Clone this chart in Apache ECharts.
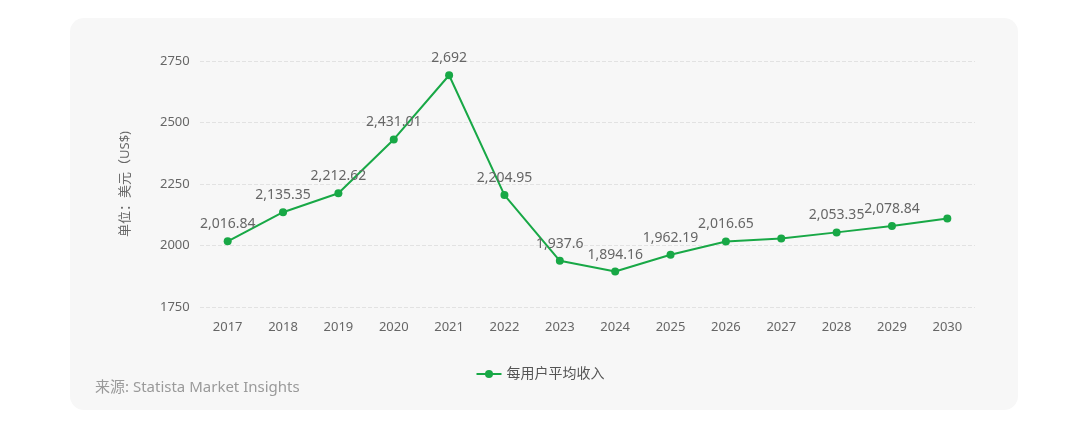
<!DOCTYPE html>
<html><head><meta charset="utf-8">
<script src="https://cdn.jsdelivr.net/npm/echarts@6/dist/echarts.min.js"></script>
<style>html,body{margin:0;background:#fff}#c{width:1080px;height:430px}</style>
</head><body><div id="c"></div>
<script>
const years = ["2017","2018","2019","2020","2021","2022","2023","2024","2025","2026","2027","2028","2029","2030"];
const arpu = [2016.84,2135.35,2212.62,2431.01,2692,2204.95,1937.6,1894.16,1962.19,2016.65,2028,2053.35,2078.84,2110];
const hideLabel = ["2027","2030"];

const chart = echarts.init(document.getElementById("c"));
const font = "'Noto Sans', 'Noto Sans CJK SC', sans-serif";
chart.setOption({
  textStyle: { fontFamily: font },
  graphic: [
    { type: "rect", z: -10, shape: { x: 70, y: 18, width: 948, height: 392, r: 14 }, style: { fill: "#f7f7f7" } },
    { type: "text", left: 95, top: 380, style: { text: "来源: Statista Market Insights", fill: "#9a9a9a", fontSize: 15, fontFamily: font } }
  ],
  grid: { left: 200, right: 105, top: 61, bottom: 123 },
  legend: {
    top: 362, left: "center", itemWidth: 25, itemHeight: 10,
    textStyle: { color: "#555", fontSize: 14 },
    data: ["每用户平均收入"]
  },
  xAxis: {
    type: "category", data: years,
    axisLine: { show: false }, axisTick: { show: false },
    axisLabel: { color: "#666", fontSize: 13, margin: 14 }
  },
  yAxis: {
    type: "value", min: 1750, max: 2750, interval: 250,
    name: "单位：美元（US$)", nameLocation: "middle", nameGap: 68, nameRotate: 90,
    nameTextStyle: { color: "#666", fontSize: 13 },
    axisLabel: { color: "#666", fontSize: 13, margin: 40, align: "left", formatter: v => String(v) },
    splitLine: { lineStyle: { type: "dashed", color: "#e2e2e2" } }
  },
  series: [{
    name: "每用户平均收入", type: "line", data: arpu.map((v, i) => ({
      value: v, label: { show: !hideLabel.includes(years[i]) }
    })),
    color: "#18a846", symbol: "circle", symbolSize: 8,
    lineStyle: { width: 2 },
    label: { position: "top", color: "#666", fontSize: 14, distance: 6,
      formatter: p => p.value.toLocaleString("en-US", { maximumFractionDigits: 2 }) },
    labelLayout: { hideOverlap: false }
  }]
});
</script></body></html>
